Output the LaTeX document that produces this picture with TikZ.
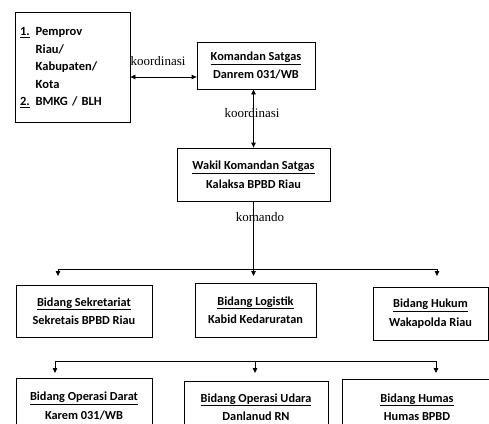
\documentclass[tikz,border=0pt]{standalone}
\usepackage{fontspec}
\setmainfont{Liberation Serif}
\newfontfamily\boxfont{Carlito}
\usetikzlibrary{arrows.meta}

\tikzset{
  kotak/.style={draw, line width=0.8pt, align=center, inner sep=0pt,
    font=\boxfont\bfseries\fontsize{12.3}{18.5}\selectfont},
  panah/.style={line width=0.8pt, -{Triangle[length=5pt,width=4.5pt]}},
  panahdua/.style={line width=0.8pt, {Triangle[length=5pt,width=4.5pt]}-{Triangle[length=5pt,width=4.5pt]}},
  garis/.style={line width=0.8pt},
  teks/.style={font=\fontsize{13}{15}\selectfont, inner sep=0pt}
}

\begin{document}
\begin{tikzpicture}[x=1pt,y=-1pt]
        \useasboundingbox (0,0) rectangle (489,423);

        % pimpinan
        \node[kotak, minimum width=115pt, minimum height=110pt, align=left,
              text width=105pt, inner xsep=5pt, font=\boxfont\bfseries\fontsize{12.5}{17.5}\selectfont] (kiri) at (72.5,67)
          {\raisebox{3pt}{\begin{tabular}{@{}l@{\hspace{6pt}}l@{}}
            \underline{1.} & Pemprov\\
             & Riau/\\
             & Kabupaten/\\
             & Kota\\
            \underline{2.} & BMKG / BLH
          \end{tabular}}};
        \node[kotak, minimum width=118pt, minimum height=47pt] (komandan) at (256,65.5)
          {\underline{Komandan Satgas}\\Danrem 031/WB};
        \node[kotak, minimum width=153pt, minimum height=53pt] (wakil) at (253.5,174.5)
          {\underline{Wakil Komandan Satgas}\\Kalaksa BPBD Riau};

        % bidang baris 1
        \node[kotak, minimum width=136pt, minimum height=52pt] (sekre) at (84,311)
          {\underline{Bidang Sekretariat}\\Sekretais BPBD Riau};
        \node[kotak, minimum width=121pt, minimum height=54pt] (logistik) at (255.5,310)
          {\underline{Bidang Logistik}\\Kabid Kedaruratan};
        \node[kotak, minimum width=115pt, minimum height=53pt] (hukum) at (430.5,313.5)
          {\underline{Bidang Hukum}\\Wakapolda Riau};

        % bidang baris 2
        \node[kotak, minimum width=136pt, minimum height=56pt] (darat) at (84,406)
          {\underline{Bidang Operasi Darat}\\Karem 031/WB};
        \node[kotak, minimum width=144pt, minimum height=52pt] (udara) at (256,407)
          {\underline{Bidang Operasi Udara}\\Danlanud RN};
        \node[kotak, minimum width=150pt, minimum height=56pt] (humas) at (417,407)
          {\underline{Bidang Humas}\\Humas BPBD};

        % koordinasi
        \coordinate (k1) at (131,77);
        \coordinate (k2) at (196,77);
        \draw[panahdua] (kiri.east |- k1) -- (komandan.west |- k2);
        \node[teks] (koor1) at (158,61) {koordinasi};
        \draw[panahdua] (wakil.north |- komandan.south) -- (wakil.north);
        \node[teks] (koor2) at (252,113) {koordinasi};

        % komando
        \coordinate (a1) at (58,269);
        \coordinate (a2) at (437,269);
        \coordinate (t1) at (0,276);
        \draw[panah] (wakil.south) -- (wakil.south |- t1);
        \node[teks] (komando) at (260,217) {komando};
        \draw[garis] (a1) -- (a2);
        \draw[panah] (a1) -- (a1 |- t1);
        \draw[panah] (a2) -- (a2 |- t1);

        \coordinate (b1) at (55,361);
        \coordinate (b2) at (436,361);
        \coordinate (b3) at (255,361);
        \coordinate (t2) at (0,373);
        \draw[garis] (b1) -- (b2);
        \draw[panah] (b1) -- (b1 |- t2);
        \draw[panah] (b3) -- (b3 |- t2);
        \draw[panah] (b2) -- (b2 |- t2);

    \end{tikzpicture}
\end{document}
